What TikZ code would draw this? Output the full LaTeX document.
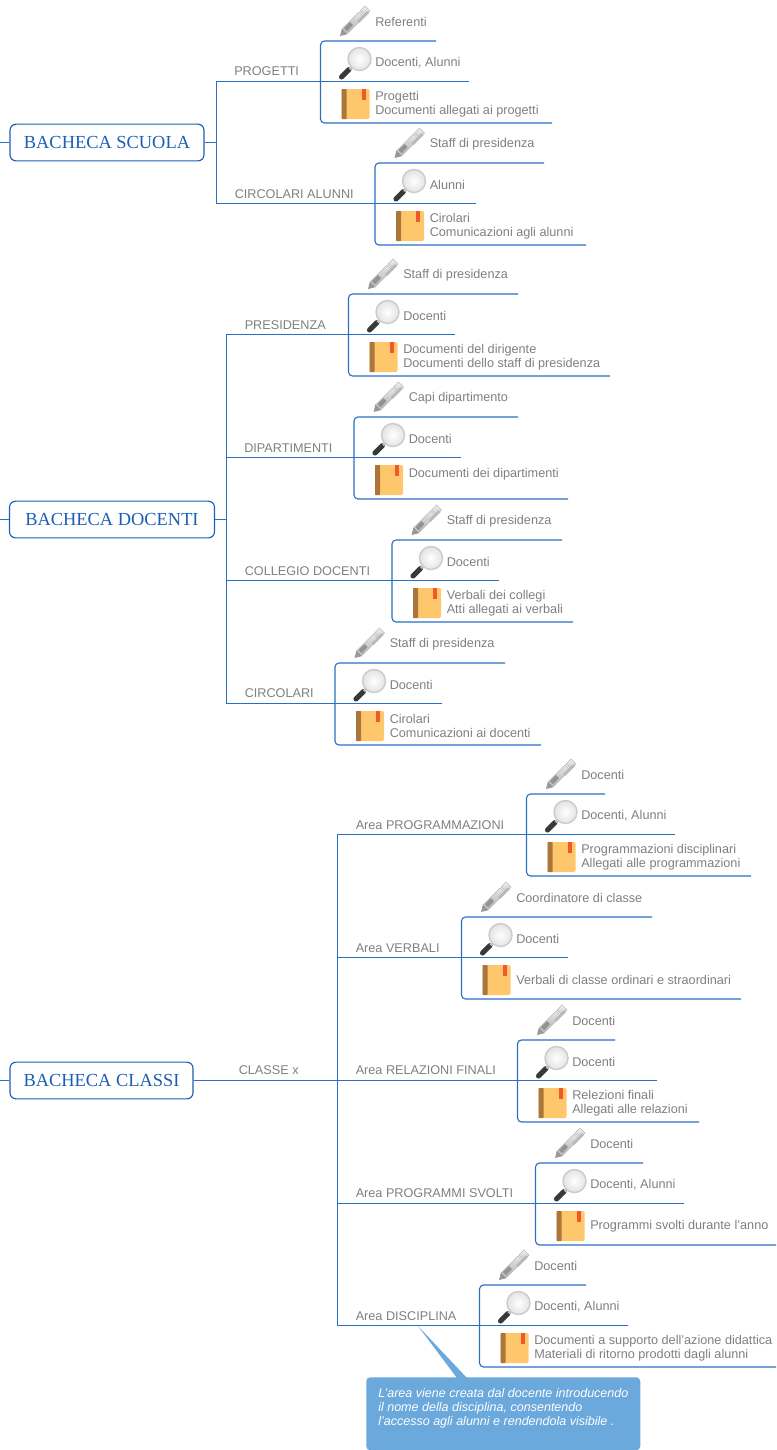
\documentclass[tikz,border=0pt]{standalone}
\usepackage{fontspec}
\setmainfont{Liberation Sans}
\newfontfamily\rootfont{Liberation Serif}
\definecolor{topicblue}{HTML}{2A6FC4}
\definecolor{rootblue}{HTML}{1A5FB4}
\definecolor{labelgray}{HTML}{7F7F7F}
\definecolor{notefill}{HTML}{6BA8DC}
\definecolor{bookbody}{HTML}{FFC76B}
\definecolor{bookback}{HTML}{A9773C}
\definecolor{bookmark}{HTML}{F0592B}
\tikzset{
    topicline/.style={draw=topicblue,line width=0.85pt},
    rootbox/.style={draw=rootblue,line width=0.85pt,rounded corners=4.5pt,text=rootblue,
        font=\rootfont\fontsize{13.8}{15}\selectfont,inner sep=0pt,minimum height=27.5pt},
    itemtext/.style={text=labelgray,font=\fontsize{9.5}{10.5}\selectfont,anchor=west,align=left,inner sep=0pt},
    arealabel/.style={itemtext},
    notebox/.style={fill=notefill,rounded corners=3pt,anchor=north west,inner sep=0pt,
        minimum width=205.5pt,minimum height=54.75pt},
    notetext/.style={text=white,font=\itshape\fontsize{9.4}{10.5}\selectfont,anchor=north west,align=left,inner sep=0pt},
    pics/penicon/.style={code={
        \fill[gray!80] (0,0) -- (2,-8) -- (8,-2) -- cycle;
        \shade[top color=gray!20,bottom color=gray!60,draw=gray!55,line width=0.3pt] (3,-8) -- (19,-24) -- (24,-19) -- (8,-3) -- cycle;
        \fill[gray!85] (4,-8) -- (10,-14) -- (13,-11) -- (7,-5) -- cycle;
        \shade[top color=gray!10,bottom color=gray!45,draw=gray!55,line width=0.3pt] (20,-25) -- (25,-30) -- (30,-25) -- (25,-20) -- cycle;
        \fill[gray!55] (17,-15) -- (27,-25) -- (29,-23) -- (19,-13) -- cycle;
    }},
    pics/lensicon/.style={code={
        \draw[gray!45!black,line width=3.8pt,line cap=round] (3,-3) -- (10.5,-10.5);
        \fill[gray!50] (10,-12) -- (12,-14) -- (14,-12) -- (12,-10) -- cycle;
        \shade[inner color=white,outer color=gray!22,draw=gray!40,line width=1.1pt] (21,-21) circle (11.5);
    }},
    pics/bookicon/.style={code={
        \fill[bookbody,rounded corners=1pt] (0,0) rectangle (28,30);
        \fill[bookback,rounded corners=0.5pt] (0,0) rectangle (5,30);
        \fill[bookmark] (20,0) rectangle (24,11);
    }}
}
% one area: name, bracket x, branch y, ends of the three lines, three texts
\newcommand{\areablock}[9]{
    \coordinate (#1-top) at (#4,#3-41);
    \coordinate (#1-mid) at (#5,#3-0.5);
    \coordinate (#1-bot) at (#6,#3+41);
    \draw[topicline,rounded corners=3pt] (#1-top) -- (#2,#3-41) -- (#2,#3+41) -- (#1-bot);
    \pic at (#2+19.5,#3-46) {penicon};
    \pic at (#2+18,#3-2) {lensicon};
    \pic at (#2+21,#3+7) {bookicon};
    \node[itemtext] (#1-who) at (#2+54.5,#3-60) {#7};
    \node[itemtext] (#1-read) at (#2+54.5,#3-19) {#8};
    \node[itemtext] (#1-docs) at (#2+54.5,#3+22) {#9};
}
\begin{document}
\begin{tikzpicture}[x=0.75pt,y=-0.75pt]
    \useasboundingbox (0,0) rectangle (776,1450);
    % Roots
    \node[rootbox,minimum width=145.5pt] (scuola) at (107,142.5) {BACHECA SCUOLA};
    \node[rootbox,minimum width=153.75pt] (docenti) at (112,519.5) {BACHECA DOCENTI};
    \node[rootbox,minimum width=137.25pt] (classi) at (101.5,1080.5) {BACHECA CLASSI};

    % Bacheca scuola
    \areablock{progetti}{320.5}{82}{436}{469}{552}{Referenti}{Docenti, Alunni}{Progetti\\Documenti allegati ai progetti}
    \areablock{alunni}{375}{204}{544}{476}{586}{Staff di presidenza}{Alunni}{Cirolari\\Comunicazioni agli alunni}
    \node[arealabel] (progettilabel) at (234,71) {PROGETTI};
    \node[arealabel] (alunnilabel) at (234.5,194) {CIRCOLARI ALUNNI};
    \coordinate (scuolain) at (0,142.5);
    \coordinate (scuolaout) at (216.5,142.5);
    \draw[topicline] (scuolain) -- (scuola.west);
    \draw[topicline] (scuola.east) -- (scuolaout);
    \draw[topicline] (progetti-mid) -- (scuolaout |- progetti-mid) -- (scuolaout |- alunni-mid) -- (alunni-mid);

    % Bacheca docenti
    \areablock{presidenza}{348.5}{335}{518}{455}{610}{Staff di presidenza}{Docenti}{Documenti del dirigente\\Documenti dello staff di presidenza}
    \areablock{dipartimenti}{354}{458}{518}{461}{568}{Capi dipartimento}{Docenti}{Documenti dei dipartimenti\\~}
    \areablock{collegio}{392}{581}{562}{499}{573}{Staff di presidenza}{Docenti}{Verbali dei collegi\\Atti allegati ai verbali}
    \areablock{circolari}{335}{704}{505}{442}{541}{Staff di presidenza}{Docenti}{Cirolari\\Comunicazioni ai docenti}
    \node[arealabel] (presidenzalabel) at (244.5,325) {PRESIDENZA};
    \node[arealabel] (dipartimentilabel) at (244,448) {DIPARTIMENTI};
    \node[arealabel] (collegiolabel) at (244.5,571) {COLLEGIO DOCENTI};
    \node[arealabel] (circolarilabel) at (244.5,693) {CIRCOLARI};
    \coordinate (docentiin) at (0,519.5);
    \coordinate (docentiout) at (226.5,519.5);
    \draw[topicline] (docentiin) -- (docenti.west);
    \draw[topicline] (docenti.east) -- (docentiout);
    \draw[topicline] (presidenza-mid) -- (docentiout |- presidenza-mid) -- (docentiout |- circolari-mid) -- (circolari-mid);
    \foreach \area in {dipartimenti,collegio}
        \draw[topicline] (docentiout |- \area-mid) -- (\area-mid);

    % Bacheca classi
    \areablock{programmazioni}{526.5}{835}{605}{675}{751}{Docenti}{Docenti, Alunni}{Programmazioni disciplinari\\Allegati alle programmazioni}
    \areablock{verbali}{461.5}{958}{652}{568}{741}{Coordinatore di classe}{Docenti}{Verbali di classe ordinari e straordinari}
    \areablock{relazioni}{517.5}{1081}{615}{657}{699}{Docenti}{Docenti}{Relezioni finali\\Allegati alle relazioni}
    \areablock{svolti}{535.5}{1204}{643}{684}{776}{Docenti}{Docenti, Alunni}{Programmi svolti durante l'anno}
    \areablock{disciplina}{479.5}{1326}{586}{628}{776}{Docenti}{Docenti, Alunni}{Documenti a supporto dell'azione didattica\\Materiali di ritorno prodotti dagli alunni}
    \node[arealabel] (classelabel) at (238.5,1070) {CLASSE x};
    \node[arealabel] (programmazionilabel) at (355.5,825) {Area PROGRAMMAZIONI};
    \node[arealabel] (verbalilabel) at (355.5,948) {Area VERBALI};
    \node[arealabel] (relazionilabel) at (355.5,1070) {Area RELAZIONI FINALI};
    \node[arealabel] (svoltilabel) at (355.5,1193) {Area PROGRAMMI SVOLTI};
    \node[arealabel] (disciplinalabel) at (355.5,1316) {Area DISCIPLINA};
    \coordinate (classiin) at (0,1080.5);
    \coordinate (classiout) at (337.5,1080.5);
    \draw[topicline] (classiin) -- (classi.west);
    \draw[topicline] (classi.east) -- (classiout);
    \draw[topicline] (programmazioni-mid) -- (classiout |- programmazioni-mid) -- (classiout |- disciplina-mid) -- (disciplina-mid);
    \foreach \area in {verbali,relazioni,svolti}
        \draw[topicline] (classiout |- \area-mid) -- (\area-mid);

    % Note on Area DISCIPLINA
    \coordinate (notetip) at (418,1326);
    \node[notebox] (notebody) at (366,1377) {};
    \fill[notefill] (notetip) -- (467,1378) -- (457,1378) -- cycle;
    \node[notetext] (notecaption) at (378,1388) {L'area viene creata dal docente introducendo\\il nome della disciplina, consentendo\\l'accesso agli alunni e rendendola visibile .};
\end{tikzpicture}
\end{document}
